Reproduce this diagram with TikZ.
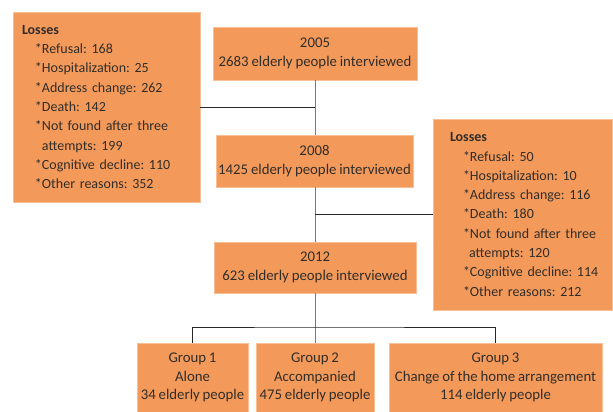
\documentclass[tikz,border=0pt]{standalone}
\usepackage{fontspec}
\setmainfont[WordSpace=0.85]{Carlito}
\frenchspacing
\definecolor{boxfill}{RGB}{243,154,91}
\definecolor{boxedge}{RGB}{248,190,150}
\definecolor{txt}{RGB}{50,45,40}
\definecolor{spine}{RGB}{120,120,120}
\definecolor{branch}{RGB}{40,40,40}
\begin{document}
\begin{tikzpicture}[x=1pt,y=-1pt,
  box/.style={fill=boxfill, draw=boxedge, line width=0.6pt, inner sep=0pt, text=txt, align=center,
    font=\fontsize{14.8}{18.8}\selectfont},
  lossbox/.style={box, align=left, font=\fontsize{14}{19.3}\selectfont},
  spineline/.style={draw=spine, line width=0.9pt},
  branchline/.style={draw=branch, line width=0.7pt}]
\useasboundingbox (0,0) rectangle (613,412);

\node[box, minimum width=204pt, minimum height=53pt] (y2005) at (315,53.5) {2005\\2683 elderly people interviewed};
\node[box, minimum width=197pt, minimum height=52pt] (y2008) at (314.5,161) {2008\\1425 elderly people interviewed};
\node[box, minimum width=202pt, minimum height=51pt] (y2012) at (315,267.5) {2012\\623 elderly people interviewed};

\node[lossbox, text width=169pt, inner xsep=9pt, minimum height=190pt] (lossA) at (106.5,107)
 {\textbf{Losses}\\
  \hspace*{13pt}*Refusal: 168\\
  \hspace*{13pt}*Hospitalization: 25\\
  \hspace*{13pt}*Address change: 262\\
  \hspace*{13pt}*Death: 142\\
  \hspace*{13pt}*Not found after three\\
  \hspace*{20pt}attempts: 199\\
  \hspace*{13pt}*Cognitive decline: 110\\
  \hspace*{13pt}*Other reasons: 352};

\node[lossbox, text width=163pt, inner xsep=8pt, minimum height=191pt] (lossB) at (522.5,214.5)
 {\hspace*{9pt}\textbf{Losses}\\
  \hspace*{22pt}*Refusal: 50\\
  \hspace*{22pt}*Hospitalization: 10\\
  \hspace*{22pt}*Address change: 116\\
  \hspace*{22pt}*Death: 180\\
  \hspace*{22pt}*Not found after three\\
  \hspace*{28pt}attempts: 120\\
  \hspace*{22pt}*Cognitive decline: 114\\
  \hspace*{22pt}*Other reasons: 212};

\node[box, minimum width=111pt, minimum height=69pt] (g1) at (192.5,377.5) {Group 1\\Alone\\34 elderly people};
\node[box, minimum width=118pt, minimum height=69pt] (g2) at (315,377.5) {Group 2\\Accompanied\\475 elderly people};
\node[box, minimum width=213pt, minimum height=69pt] (g3) at (495.5,377.5) {Group 3\\Change of the home arrangement\\114 elderly people};

\coordinate (bus) at (315,327);

\draw[spineline] (y2005.south) -- (y2008.north -| y2005.south);
\draw[spineline] (y2008.south -| y2012.north) -- (y2012.north);
\draw[spineline] (y2012.south) -- (g2.north);
\draw[branchline] (lossA.east) -- (lossA.east -| y2005.south);
\draw[branchline] (lossB.west) -- (lossB.west -| y2012.north);
\draw[branchline] (g1.north) |- (bus) -| (g3.north);
\end{tikzpicture}
\end{document}
